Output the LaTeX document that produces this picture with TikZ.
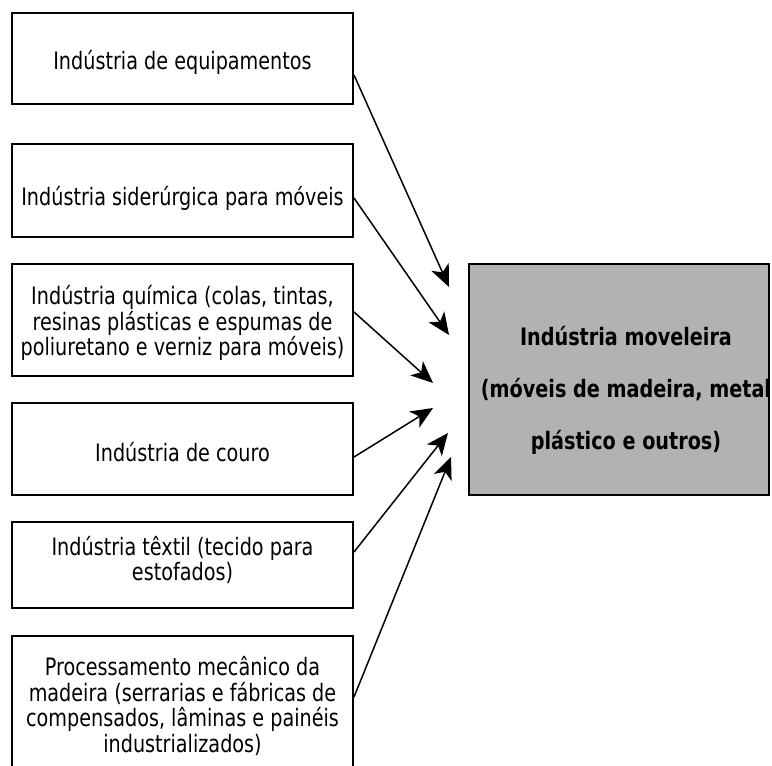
\documentclass[tikz,border=0pt]{standalone}
\usepackage{fontspec}
\setmainfont{DejaVu Sans}[FakeStretch=0.8]
\usetikzlibrary{arrows.meta}
\definecolor{boxgray}{RGB}{178,178,178}
\begin{document}
\begin{tikzpicture}[x=1pt,y=-1pt,
  srcbox/.style={draw=black, line width=2pt, minimum width=341pt, inner sep=0pt},
  srctext/.style={align=center, font=\fontsize{24}{25.8}\selectfont, inner sep=0pt},
  tgtbox/.style={draw=black, fill=boxgray, line width=2pt, minimum width=300pt, minimum height=231pt, inner sep=0pt},
  tgttext/.style={align=center, font=\bfseries\fontsize{24}{52}\selectfont, inner sep=0pt},
  flow/.style={line width=1.5pt, -{Stealth[length=22pt,width=19pt,inset=6pt]}},
]
\useasboundingbox (0,0) rectangle (772,766);
\clip (0,0) rectangle (772,766);

% source boxes
\node[srcbox, minimum height=91pt]  (b1) at (182.5,58.5) {};
\node[srcbox, minimum height=93pt]  (b2) at (182.5,190.5) {};
\node[srcbox, minimum height=112pt] (b3) at (182.5,320) {};
\node[srcbox, minimum height=92pt]  (b4) at (182.5,449) {};
\node[srcbox, minimum height=86pt]  (b5) at (182.5,565) {};
\node[srcbox, minimum height=136pt] (b6) at (182.5,704) {};

\node[srctext] (t1) at (182.5,62) {Indústria de equipamentos};
\node[srctext] (t2) at (182.5,198) {Indústria siderúrgica para móveis};
\node[srctext] (t3) at (182.5,323) {Indústria química (colas, tintas,\\resinas plásticas e espumas de\\poliuretano e verniz para móveis)};
\node[srctext] (t4) at (182.5,452) {Indústria de couro};
\node[srctext] (t5) at (182.5,560) {Indústria têxtil (tecido para\\estofados)};
\node[srctext] (t6) at (182.5,706) {Processamento mecânico da\\madeira (serrarias e fábricas de\\compensados, lâminas e painéis\\industrializados)};

% target box
\node[tgtbox] (tg) at (619,379.5) {};
\node[tgttext] (tt) at (626,390) {Indústria moveleira\\(móveis de madeira, metal\\plástico e outros)};

% arrow end points
\coordinate (e1) at (449,287);
\coordinate (e2) at (449,335);
\coordinate (e3) at (433,383);
\coordinate (e4) at (433,408);
\coordinate (e5) at (448,433);
\coordinate (e6) at (451,457);

\draw[flow] ([yshift=-16.5pt]b1.east) -- (e1);
\draw[flow] ([yshift=-7.5pt]b2.east) -- (e2);
\draw[flow] ([yshift=8pt]b3.east) -- (e3);
\draw[flow] ([yshift=-8pt]b4.east) -- (e4);
\draw[flow] ([yshift=13pt]b5.east) -- (e5);
\draw[flow] ([yshift=7pt]b6.east) -- (e6);
\end{tikzpicture}
\end{document}
